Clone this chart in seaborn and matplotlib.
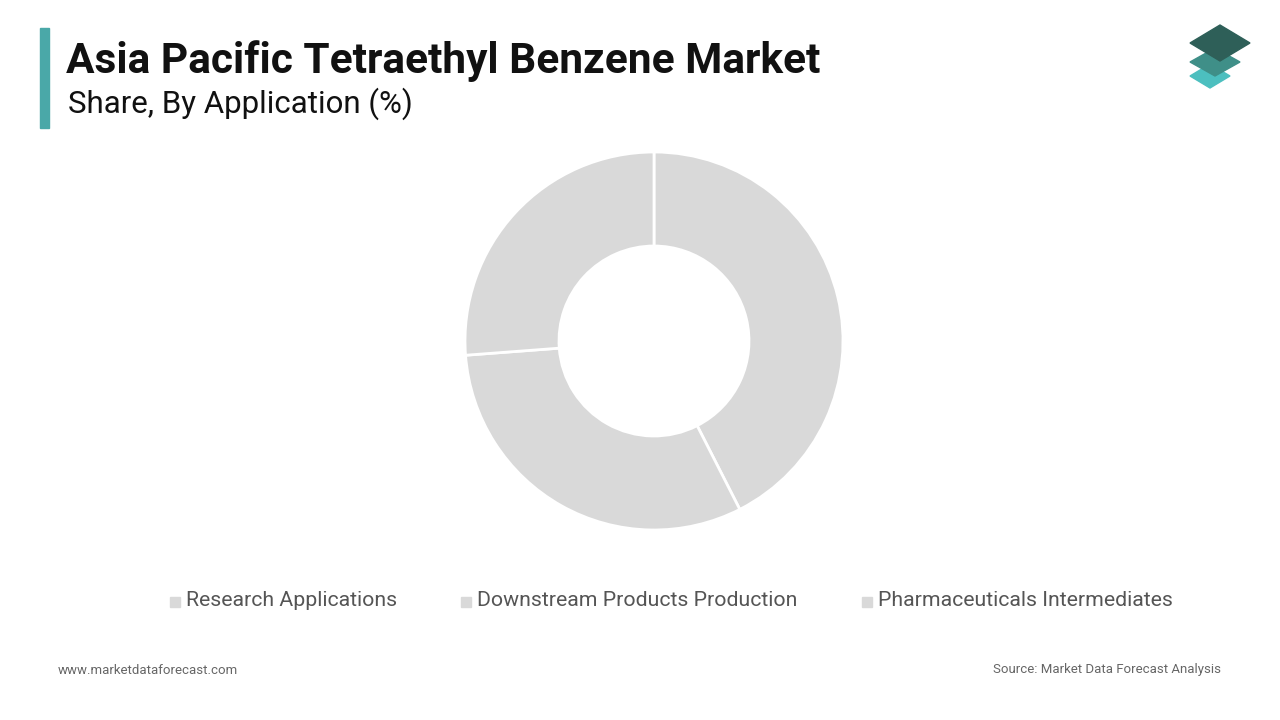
import matplotlib
matplotlib.use("Agg")
import matplotlib.pyplot as plt
import seaborn as sns
from matplotlib.patches import Polygon, Rectangle

sns.set_theme(style="white")
plt.rcParams["font.family"] = ["Roboto", "DejaVu Sans"]

categories = ["Research Applications", "Downstream Products Production",
              "Pharmaceuticals Intermediates"]
shares = [42.5, 31.3, 26.2]
slice_color = "#d9d9d9"

fig = plt.figure(figsize=(12.8, 7.2), dpi=100)

# header
fig.add_artist(Rectangle((40 / 1280, 1 - 128 / 720), 9 / 1280, 100 / 720,
                         transform=fig.transFigure, color="#4aa8a8"))
fig.text(66 / 1280, 1 - 61 / 720, "Asia Pacific Tetraethyl Benzene Market",
         fontsize=30.5, fontweight="bold", color="#111111", va="center")
fig.text(68 / 1280, 1 - 104 / 720, "Share, By Application (%)",
         fontsize=22.5, color="#111111", va="center")

# logo
logo = [
    ([(1190, 76), (1210, 64), (1230, 76), (1210, 88)], "#4cbfbf"),
    ([(1190, 62), (1215, 48), (1240, 62), (1215, 76)], "#3f8f88"),
    ([(1190, 43), (1220, 25), (1250, 43), (1220, 61)], "#2e5f58"),
]
for pts, col in logo:
    fig.add_artist(Polygon([(x / 1280, 1 - y / 720) for x, y in pts],
                           transform=fig.transFigure, color=col))

# donut
ax = fig.add_axes([(654 - 195) / 1280, 1 - (341 + 195) / 720, 390 / 1280, 390 / 720])
ax.pie(shares, colors=[slice_color] * 3, startangle=90, counterclock=False,
       radius=189 / 195, wedgeprops=dict(width=94 / 195, edgecolor="white", linewidth=2))
ax.set_aspect("equal")
ax.set_xlim(-1, 1)
ax.set_ylim(-1, 1)
ax.axis("off")

# legend
for x, label in zip([170, 461, 862], categories):
    fig.add_artist(Rectangle((x / 1280, 1 - 607 / 720), 10 / 1280, 10 / 720,
                             transform=fig.transFigure, color=slice_color))
    fig.text((x + 16) / 1280, 1 - 601 / 720, label, fontsize=15.3,
             color="#555555", va="center")

fig.text(58 / 1280, 1 - 670 / 720, "www.marketdataforecast.com", fontsize=9.5,
         color="#666666", va="center")
fig.text(1221 / 1280, 1 - 670 / 720, "Source: Market Data Forecast Analysis",
         fontsize=9.5, color="#666666", va="center", ha="right")

fig.savefig("out.png", dpi=100, facecolor="white")
